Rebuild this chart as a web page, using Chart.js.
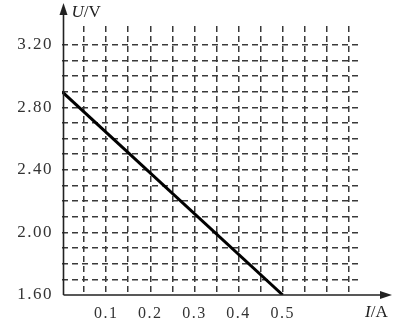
<!DOCTYPE html>
<html>
<head>
<meta charset="utf-8">
<script src="https://cdn.jsdelivr.net/npm/chart.js@4/dist/chart.umd.min.js"></script>
<style>
  html, body { margin: 0; padding: 0; background: #fff; }
  #wrap { width: 412px; height: 334px; }
</style>
</head>
<body>
<div id="wrap"><canvas id="chart"></canvas></div>
<script>
// I-U line of the source
var currents = [0, 0.5];
var voltages = [2.90, 1.60];

// tick labels and grid positions
var xTickLabels = ['0.1', '0.2', '0.3', '0.4', '0.5'];
var yTickLabels = ['1.60', '2.00', '2.40', '2.80', '3.20'];
var xGrid = [0, 0.05, 0.1, 0.15, 0.2, 0.25, 0.3, 0.35, 0.4, 0.45, 0.5, 0.55, 0.6, 0.65];
var yGrid = [1.6, 1.7, 1.8, 1.9, 2.0, 2.1, 2.2, 2.3, 2.4, 2.5, 2.6, 2.7, 2.8, 2.9, 3.0, 3.1, 3.2];

var serif = '"Liberation Serif", "DejaVu Serif", serif';
var gridColor = '#3a3a3a';

function findLabel(list, v) {
  for (var i = 0; i < list.length; i++) {
    if (Math.abs(Number(list[i]) - v) < 1e-6) return list[i];
  }
  return '';
}

function arrow(ctx, x, y, dir) {
  ctx.beginPath();
  if (dir === 'up') {
    ctx.moveTo(x, y);
    ctx.lineTo(x - 4, y + 12);
    ctx.lineTo(x + 4, y + 12);
  } else {
    ctx.moveTo(x, y);
    ctx.lineTo(x - 12, y - 4);
    ctx.lineTo(x - 12, y + 4);
  }
  ctx.closePath();
  ctx.fill();
}

// spaced-out digits like the scanned figure
var spacing = {
  id: 'spacing',
  beforeDraw: function(chart) { chart.ctx.letterSpacing = '1.5px'; },
  afterDraw: function(chart) { chart.ctx.letterSpacing = '0px'; }
};

var axesPlugin = {
  id: 'axes',
  afterDatasetsDraw: function(chart) {
    var ctx = chart.ctx;
    var xs = chart.scales.x, ys = chart.scales.y;
    var ox = xs.getPixelForValue(0) + 1.5;
    var oy = ys.getPixelForValue(1.6);
    ctx.save();
    ctx.letterSpacing = '0px';
    ctx.strokeStyle = '#222';
    ctx.fillStyle = '#222';
    ctx.lineWidth = 1.6;
    ctx.beginPath();
    ctx.moveTo(ox, oy);
    ctx.lineTo(ox, 8);
    ctx.moveTo(ox, oy);
    ctx.lineTo(384, oy);
    ctx.stroke();
    arrow(ctx, ox, 3, 'up');
    arrow(ctx, 392, oy, 'right');

    ctx.textBaseline = 'middle';
    ctx.textAlign = 'left';
    ctx.font = 'italic 17px ' + serif;
    ctx.fillText('U', ox + 8, 13);
    var w = ctx.measureText('U').width;
    ctx.font = '17px ' + serif;
    ctx.fillText('/V', ox + 8 + w, 13);

    ctx.font = 'italic 17px ' + serif;
    ctx.fillText('I', 365, 313);
    w = ctx.measureText('I').width;
    ctx.font = '17px ' + serif;
    ctx.fillText('/A', 365 + w, 313);
    ctx.restore();
  }
};

new Chart(document.getElementById('chart'), {
  type: 'line',
  data: {
    datasets: [{
      data: currents.map(function(c, i) { return { x: c, y: voltages[i] }; }),
      borderColor: '#000',
      borderWidth: 3,
      pointRadius: 0,
      fill: false
    }]
  },
  options: {
    responsive: true,
    maintainAspectRatio: false,
    animation: false,
    layout: { padding: { top: 26, right: 52, left: 0, bottom: 0 } },
    plugins: { legend: { display: false }, tooltip: { enabled: false } },
    scales: {
      x: {
        type: 'linear',
        min: 0,
        max: 0.675,
        afterBuildTicks: function(s) { s.ticks = xGrid.map(function(v) { return { value: v }; }); },
        afterFit: function(s) { s.height = 39; },
        border: { display: false, dash: [6, 4] },
        grid: {
          drawTicks: false,
          lineWidth: 1.5,
          color: function(c) { return c.tick && c.tick.value === 0 ? 'rgba(0,0,0,0)' : gridColor; }
        },
        ticks: {
          autoSkip: false,
          maxRotation: 0,
          padding: 9,
          color: '#333',
          font: { family: serif, size: 16 },
          callback: function(v) { return findLabel(xTickLabels, v); }
        }
      },
      y: {
        type: 'linear',
        min: 1.6,
        max: 3.32,
        afterBuildTicks: function(s) { s.ticks = yGrid.map(function(v) { return { value: v }; }); },
        afterFit: function(s) { s.width = 62; },
        border: { display: false, dash: [6, 4] },
        grid: {
          drawTicks: false,
          lineWidth: 1.5,
          color: function(c) { return c.tick && Math.abs(c.tick.value - 1.6) < 1e-6 ? 'rgba(0,0,0,0)' : gridColor; }
        },
        ticks: {
          autoSkip: false,
          padding: 9,
          color: '#333',
          font: { family: serif, size: 17 },
          callback: function(v) { return findLabel(yTickLabels, v); }
        }
      }
    }
  },
  plugins: [spacing, axesPlugin]
});
</script>
</body>
</html>
